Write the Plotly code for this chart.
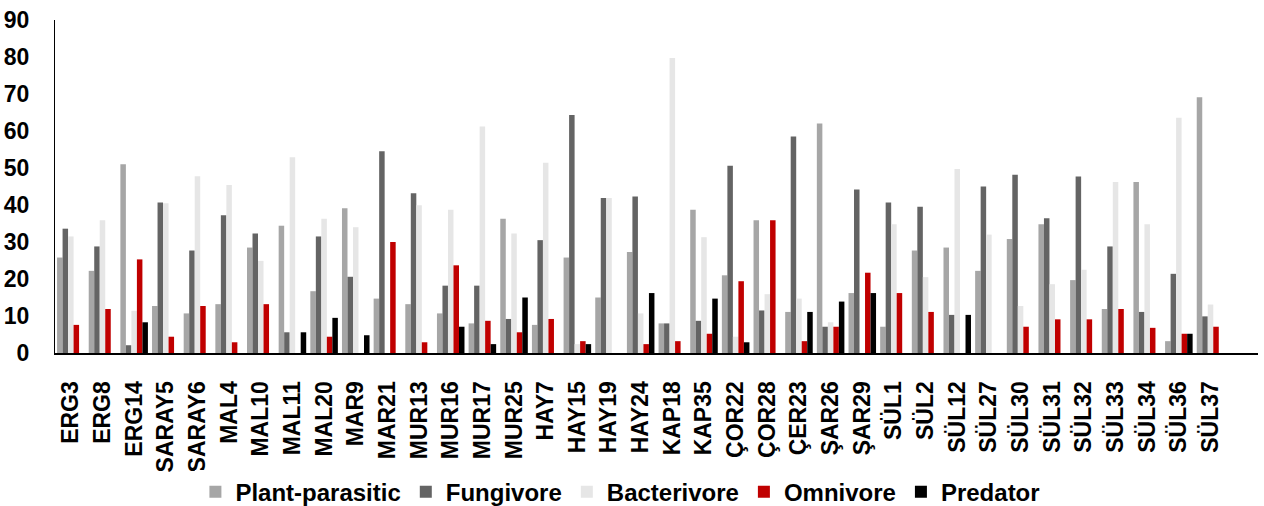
import plotly.graph_objects as go

categories = ["ERG3", "ERG8", "ERG14", "SARAY5", "SARAY6", "MAL4", "MAL10", "MAL11", "MAL20",
              "MAR9", "MAR21", "MUR13", "MUR16", "MUR17", "MUR25", "HAY7", "HAY15", "HAY19",
              "HAY24", "KAP18", "KAP35", "ÇOR22", "ÇOR28", "ÇER23", "ŞAR26", "ŞAR29", "SÜL1",
              "SÜL2", "SÜL12", "SÜL27", "SÜL30", "SÜL31", "SÜL32", "SÜL33", "SÜL34", "SÜL36", "SÜL37"]

plant_parasitic = [25.8, 22.2, 51.0, 12.7, 10.7, 13.2, 28.5, 34.4, 16.7,
                   39.1, 14.7, 13.2, 10.7, 8.0, 36.3, 7.6, 25.8, 15.0,
                   27.3, 8.0, 38.7, 21.0, 35.9, 11.1, 62.0, 16.2, 7.1,
                   27.7, 28.5, 22.2, 30.8, 34.8, 19.7, 11.9, 46.2, 3.2, 69.1]
fungivore = [33.6, 28.8, 2.1, 40.7, 27.7, 37.2, 32.3, 5.6, 31.5,
             20.6, 54.5, 43.2, 18.2, 18.2, 9.2, 30.5, 64.3, 41.9,
             42.3, 8.0, 8.7, 50.6, 11.5, 58.5, 7.1, 44.2, 40.7,
             39.5, 10.3, 45.0, 48.2, 36.4, 47.7, 28.8, 11.1, 21.4, 9.9]
bacterivore = [31.5, 35.9, 11.4, 40.5, 47.8, 45.4, 24.9, 52.9, 36.3,
               34.0, 0, 39.9, 38.7, 61.2, 32.3, 51.4, 2.4, 41.9,
               10.7, 79.7, 31.3, 4.4, 15.9, 14.7, 8.3, 0, 34.8,
               20.5, 49.7, 32.0, 12.7, 18.6, 22.5, 46.2, 34.8, 63.6, 13.1]
omnivore = [7.6, 11.9, 25.3, 4.4, 12.7, 2.9, 13.2, 0, 4.4,
            0, 30.0, 2.9, 23.7, 8.7, 5.6, 9.2, 3.2, 0,
            2.4, 3.2, 5.2, 19.4, 35.9, 3.2, 7.1, 21.7, 16.2,
            11.1, 0, 0, 7.1, 9.1, 9.1, 11.9, 6.8, 5.2, 7.1]
predator = [0, 0, 8.3, 0, 0, 0, 0, 5.6, 9.5,
            4.8, 0, 0, 7.1, 2.4, 15.0, 0, 2.4, 0,
            16.2, 0, 14.7, 2.9, 0, 11.1, 13.9, 16.2, 0,
            0, 10.3, 0, 0, 0, 0, 0, 0, 5.2, 0]

series = [
    ("Plant-parasitic", plant_parasitic, "#a6a6a6"),
    ("Fungivore", fungivore, "#646464"),
    ("Bacterivore", bacterivore, "#e6e6e6"),
    ("Omnivore", omnivore, "#c00000"),
    ("Predator", predator, "#000000"),
]

font_family = "Liberation Sans, Arial, sans-serif"

fig = go.Figure()
for name, vals, color in series:
    fig.add_trace(go.Bar(x=categories, y=vals, name=name, marker_color=color,
                         marker_line_width=0))

fig.update_layout(
    width=1264, height=506,
    margin=dict(l=55, r=6, t=20, b=153, autoexpand=False),
    plot_bgcolor="white", paper_bgcolor="white",
    barmode="group", bargap=0.13, bargroupgap=0,
    font=dict(family=font_family, size=23, color="black", weight="bold"),
    legend=dict(orientation="h", x=0.47, xanchor="center", y=-0.418, yanchor="middle",
                font=dict(family=font_family, size=24, color="black", weight="bold"),
                itemwidth=30, traceorder="normal"),
    showlegend=True,
)
fig.update_yaxes(range=[0, 90], dtick=10, showgrid=False, showline=True, linecolor="black",
                 linewidth=1, ticks="", ticklabelstandoff=20, zeroline=False, automargin=False,
                 tickfont=dict(family=font_family, size=23, color="black", weight="bold"))
fig.update_xaxes(range=[-0.5, 37.5], showgrid=False, showline=True, linecolor="black",
                 linewidth=2, ticks="", tickangle=-90, ticklabelstandoff=17, automargin=False,
                 tickfont=dict(family=font_family, size=23, color="black", weight="bold"))

fig.write_html("out.html")
